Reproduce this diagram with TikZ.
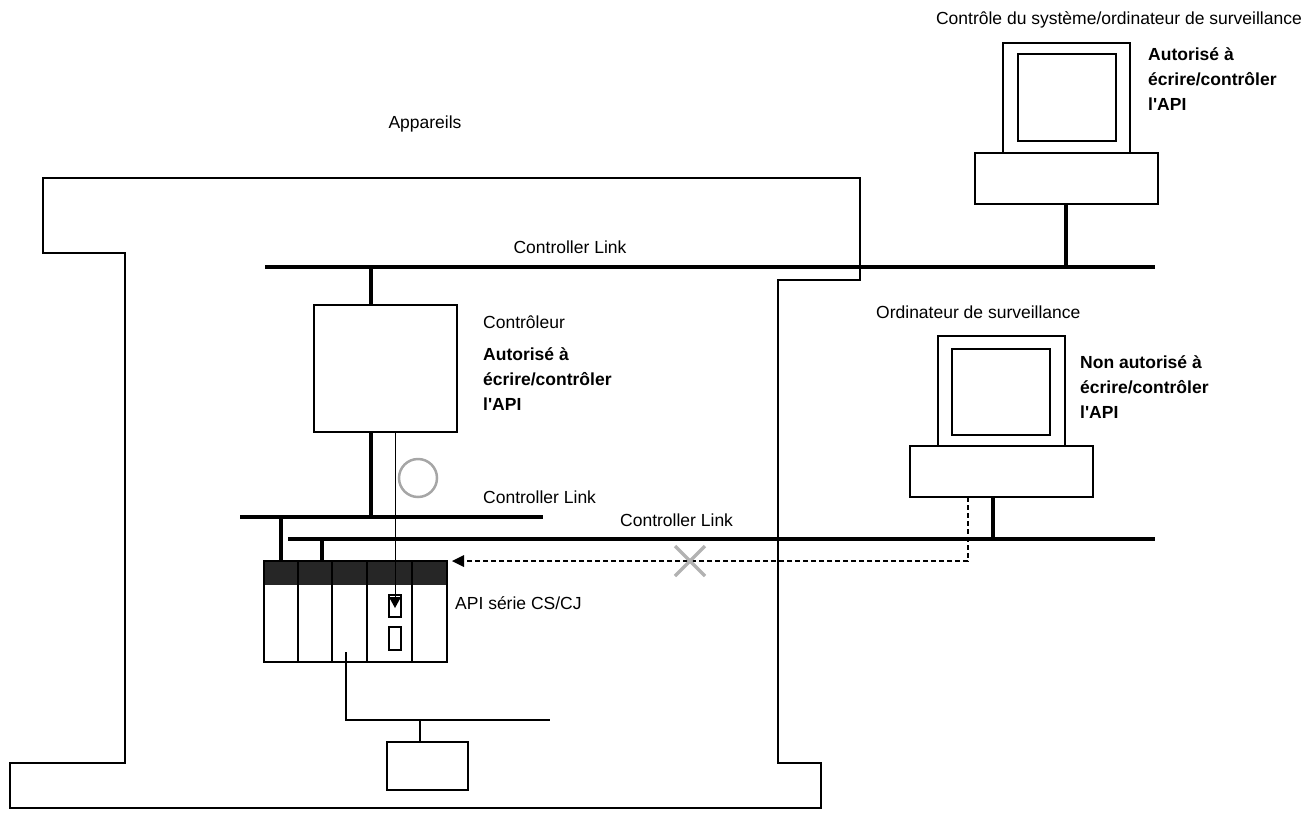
\documentclass[tikz,border=0pt]{standalone}
\usepackage{fontspec}
\setmainfont{Liberation Sans}
\begin{document}
\begin{tikzpicture}[x=1pt,y=-1pt,
  bus/.style={line width=4pt},
  thin/.style={line width=1.3pt},
  lab/.style={font=\fontsize{17.5}{25}\selectfont,inner sep=0pt},
  blab/.style={font=\fontsize{17.5}{25}\selectfont\bfseries,inner sep=0pt,align=left},
  box/.style={draw,line width=1.5pt,fill=white}]
\useasboundingbox (0,0) rectangle (1310,817);
% Appareils frame
\draw[thin] (43,178) -- (860,178) -- (860,280) -- (778,280) -- (778,763) -- (821,763) -- (821,808) -- (10,808) -- (10,763) -- (125,763) -- (125,253) -- (43,253) -- cycle;
% buses
\draw[bus] (265,267) -- (1155,267);
\draw[bus] (240,517) -- (543,517);
\draw[bus] (288,539) -- (1155,539);
% top computer
\draw[box] (1003,43) rectangle (1130,153);
\draw[thin] (1018,54) rectangle (1116,141);
\draw[box] (975,153) rectangle (1158,204);
\coordinate (t1) at (1066,204); \coordinate (t2) at (1066,267);
\draw[bus] (t1) -- (t2);
% bottom computer
\draw[box] (938,336) rectangle (1065,446);
\draw[thin] (952,349) rectangle (1050,435);
\draw[box] (910,446) rectangle (1093,497);
\coordinate (b1) at (993,497); \coordinate (b2) at (993,539);
\draw[bus] (b1) -- (b2);
% controller
\draw[box] (314,305) rectangle (457,432);
\draw[bus] (371,267) -- (371,305);
\draw[bus] (371,432) -- (371,517);
\draw[line width=2.5pt,gray!70] (418,478) circle (19);
% PLC
\fill[black!85] (264,561) rectangle (447,585);
\draw[thin] (264,561) rectangle (447,662);
\foreach \x in {298,332,367,412} \draw[thin] (\x,561) -- (\x,662);
\draw[thin] (389,595) rectangle (401,617);
\draw[thin] (389,627) rectangle (401,650);
\draw[bus] (281,517) -- (281,561);
\draw[bus] (322,539) -- (322,561);
\draw[line width=0.8pt] (395,432) -- (395,600);
\fill (389,597) -- (401,597) -- (395,608) -- cycle;
% lower network
\draw[thin] (346,652) -- (346,720) -- (550,720);
\draw[thin] (420,720) -- (420,742);
\draw[thin] (387,742) rectangle (468,790);
% dashed arrow
\draw[line width=1.3pt,dash pattern=on 5pt off 3pt] (968,497) -- (968,561) -- (462,561);
\fill (452,561) -- (464,555) -- (464,567) -- cycle;
\draw[line width=3.5pt,gray!60] (675,546) -- (705,576) (675,576) -- (705,546);
% labels
\node[lab,anchor=base east] at (1302,24) {Contrôle du système/ordinateur de surveillance};
\node[blab,anchor=north west] at (1148,47) {Autorisé à\\écrire/contrôler\\l\textquotesingle API};
\node[lab,anchor=base] at (425,128) {Appareils};
\node[lab,anchor=base] at (570,253) {Controller Link};
\node[lab,anchor=base west] at (876,318) {Ordinateur de surveillance};
\node[blab,anchor=north west] at (1080,355) {Non autorisé à\\écrire/contrôler\\l\textquotesingle API};
\node[lab,anchor=base west] at (483,328) {Contrôleur};
\node[blab,anchor=north west] at (483,347) {Autorisé à\\écrire/contrôler\\l\textquotesingle API};
\node[lab,anchor=base west] at (483,503) {Controller Link};
\node[lab,anchor=base west] at (620,526) {Controller Link};
\node[lab,anchor=base west] at (455,609) {API série CS/CJ};
\end{tikzpicture}
\end{document}
